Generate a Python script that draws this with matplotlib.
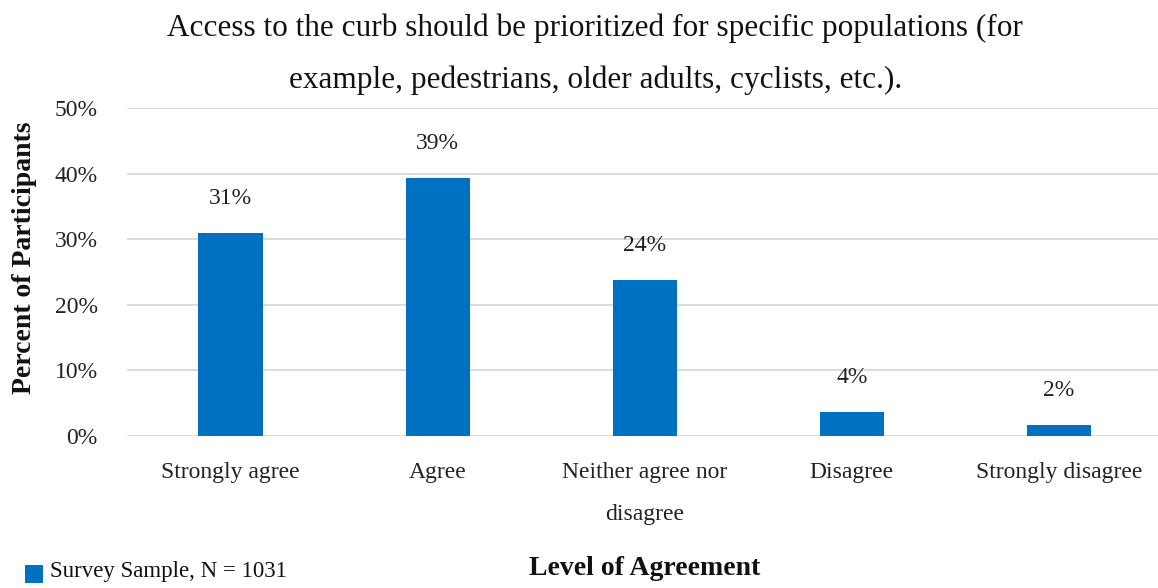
import matplotlib.pyplot as plt
from matplotlib.patches import Rectangle

# Survey responses, percent of participants
categories = ["Strongly agree", "Agree", "Neither agree nor\ndisagree",
              "Disagree", "Strongly disagree"]
values = [30.9, 39.3, 23.8, 3.7, 1.7]
yticks = [0, 10, 20, 30, 40, 50]

bar_color = "#0070C0"
grid_color = "#D9D9D9"

plt.rcParams['font.family'] = ['Liberation Serif', 'DejaVu Serif']

fig = plt.figure(figsize=(11.58, 5.88), dpi=100)
ax = fig.add_axes([0.1097, 0.2585, 0.894, 0.5578])

x = range(len(categories))
bars = ax.bar(x, values, width=0.31, color=bar_color, zorder=3)

# value labels above each bar
for bar, v in zip(bars, values):
    ax.annotate(f"{v:.0f}%", (bar.get_x() + bar.get_width() / 2, v),
                xytext=(0, 25), textcoords="offset points",
                ha="center", va="center", fontsize=17, color="#222222")

ax.set_xlim(-0.5, 4.5)
ax.set_ylim(0, 50)
ax.set_yticks(yticks)
ax.set_yticklabels([f"{t}%" for t in yticks], fontsize=17, color="#222222")
ax.set_xticks(list(x))
ax.set_xticklabels(categories, fontsize=17, color="#222222", linespacing=2.3)
ax.tick_params(axis="both", length=0)
ax.tick_params(axis="x", pad=19)
ax.tick_params(axis="y", pad=21)

ax.grid(axis="y", color=grid_color, linewidth=1.3, zorder=0)
for s in ax.spines.values():
    s.set_visible(False)

fig.text(0.514, 0.952, "Access to the curb should be prioritized for specific populations (for",
         ha="center", va="center", fontsize=22.5, color="#111111")
fig.text(0.514, 0.864, "example, pedestrians, older adults, cyclists, etc.).",
         ha="center", va="center", fontsize=22.5, color="#111111")

fig.text(0.021, 0.561, "Percent of Participants", rotation=90, ha="center", va="center",
         fontsize=20, fontweight="bold", color="#111111")
fig.text(0.557, 0.034, "Level of Agreement", ha="center", va="center",
         fontsize=20, fontweight="bold", color="#111111")

# legend swatch and label
fig.patches.append(Rectangle((0.0216, 0.008), 0.0155, 0.031, transform=fig.transFigure,
                             facecolor=bar_color, edgecolor="none"))
fig.text(0.043, 0.028, "Survey Sample, N = 1031", ha="left", va="center",
         fontsize=16.5, color="#111111")

fig.savefig("out.png", dpi=100)
